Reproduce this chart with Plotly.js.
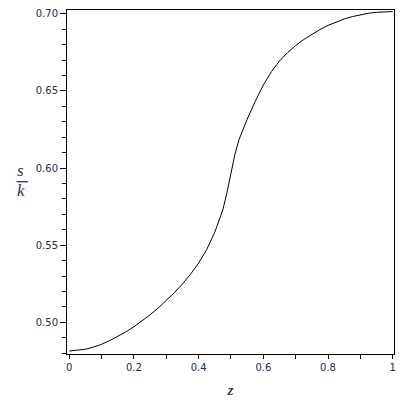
<!DOCTYPE html>
<html>
<head>
<meta charset="utf-8">
<script src="https://cdn.plot.ly/plotly-3.0.1.min.js"></script>
<style>
  html, body { margin: 0; padding: 0; background: #fff; }
  #plot { width: 400px; height: 400px; }
</style>
</head>
<body>
<div id="plot"></div>
<script>
"use strict";
// values
var zVals = [0, 0.025, 0.05, 0.075, 0.1, 0.125, 0.15, 0.175, 0.2, 0.225, 0.25, 0.275,
             0.3, 0.325, 0.35, 0.375, 0.4, 0.425, 0.45, 0.475, 0.4875, 0.5, 0.5125,
             0.525, 0.55, 0.575, 0.6, 0.625, 0.65, 0.675, 0.7, 0.725, 0.75, 0.775,
             0.8, 0.825, 0.85, 0.875, 0.9, 0.925, 0.95, 0.975, 1];
var skVals = [0.4814, 0.4818, 0.4826, 0.4840, 0.4858, 0.4882, 0.4908, 0.4938, 0.4972, 0.5009,
              0.5049, 0.5093, 0.5140, 0.5192, 0.5249, 0.5312, 0.5384, 0.5472, 0.5585, 0.5730,
              0.5840, 0.5975, 0.6092, 0.6185, 0.6316, 0.6432, 0.6538, 0.6624, 0.6694, 0.6748,
              0.6794, 0.6833, 0.6867, 0.6897, 0.6924, 0.6947, 0.6966, 0.6981, 0.6994, 0.7003,
              0.7009, 0.7013, 0.7014];
var xTicks = [0, 0.2, 0.4, 0.6, 0.8, 1];
var xTickText = ["0", "0.2", "0.4", "0.6", "0.8", "1"];
var yTicks = [0.50, 0.55, 0.60, 0.65, 0.70];
var yTickText = ["0.50", "0.55", "0.60", "0.65", "0.70"];

var tickFont = {family: "DejaVu Sans", size: 10, color: "#1e2a55"};
var labFont = {family: "Liberation Serif", size: 17, color: "#1c3370"};

let trace = {
  x: zVals,
  y: skVals,
  type: 'scatter',
  mode: 'lines',
  line: {color: '#000', width: 1},
  hoverinfo: 'skip'
};

let format = {
  width: 400,
  height: 400,
  margin: {l: 67, r: 6, t: 10, b: 46},
  paper_bgcolor: '#fff',
  plot_bgcolor: '#fff',
  showlegend: false,
  xaxis: {
    range: [-0.007, 1.004],
    tickmode: 'array', tickvals: xTicks, ticktext: xTickText,
    ticks: 'outside', ticklen: 4, tickwidth: 1, tickcolor: '#000',
    minor: {dtick: 0.1, ticks: 'outside', ticklen: 4, tickwidth: 1, tickcolor: '#000', showgrid: false},
    showline: true, linecolor: '#000', linewidth: 1, mirror: true,
    showgrid: false, zeroline: false,
    tickfont: tickFont,
    title: {text: '<i>z</i>', font: {family: "Liberation Serif", size: 15, color: '#000'}, standoff: 12}
  },
  yaxis: {
    range: [0.4795, 0.7024],
    tickmode: 'array', tickvals: yTicks, ticktext: yTickText,
    ticks: 'outside', ticklen: 6, tickwidth: 1, tickcolor: '#000',
    minor: {dtick: 0.01, tick0: 0.5, ticks: 'outside', ticklen: 4, tickwidth: 1, tickcolor: '#000', showgrid: false},
    showline: true, linecolor: '#000', linewidth: 1, mirror: true,
    showgrid: false, zeroline: false,
    tickfont: tickFont
  },
  annotations: [
    {xref: 'paper', yref: 'paper', x: -0.142, y: 0.533, text: '<i>s</i>', showarrow: false,
     font: labFont, xanchor: 'center', yanchor: 'middle'},
    {xref: 'paper', yref: 'paper', x: -0.142, y: 0.474, text: '<i>k</i>', showarrow: false,
     font: labFont, xanchor: 'center', yanchor: 'middle'}
  ],
  shapes: [
    {type: 'line', xref: 'paper', yref: 'paper', x0: -0.154, x1: -0.119, y0: 0.5008, y1: 0.5008,
     line: {color: '#1c3370', width: 1.3}}
  ]
};

Plotly.newPlot('plot', [trace], format, {displayModeBar: false, staticPlot: true});
</script>
</body>
</html>
